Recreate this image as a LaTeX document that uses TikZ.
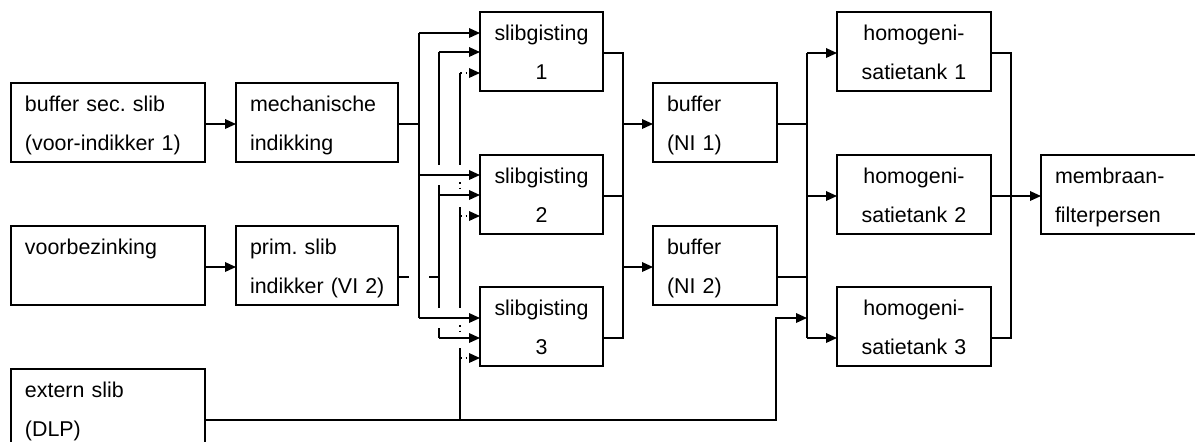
\documentclass[tikz,border=0pt]{standalone}
\usepackage{fontspec}
\setmainfont{Liberation Sans}
\usetikzlibrary{arrows.meta,calc}
\frenchspacing
\begin{document}
\begin{tikzpicture}[x=0.5pt,y=-0.5pt,
  line width=0.75pt,
  box/.style={draw, rectangle, anchor=north west, outer sep=0pt, inner ysep=0pt,
    minimum height=39.5pt, text height=14pt, text depth=25.5pt,
    font=\fontsize{10.7}{19.7}\selectfont\frenchspacing},
  lbox/.style={box, align=left, inner xsep=7pt},
  cbox/.style={box, align=center, inner xsep=4pt},
  arr/.style={-{Triangle[length=5.5pt,width=4.8pt]}},
]
\useasboundingbox (0,0) rectangle (1195,441);

% boxes
\node[lbox, minimum width=97pt, text width=83pt] (bsec) at (11,83) {buffer sec.~slib\\(voor-indikker~1)};
\node[lbox, minimum width=81pt, text width=67pt] (mech) at (236,83) {mechanische\\indikking};
\node[lbox, minimum width=97pt, text width=83pt] (voor) at (11,226) {voorbezinking};
\node[lbox, minimum width=81pt, text width=67pt] (prim) at (236,226) {prim.~slib\\\mbox{indikker (VI 2)}};
\node[lbox, minimum width=97pt, text width=83pt] (ext) at (11,369) {extern~slib\\(DLP)};
\node[cbox, minimum width=61.5pt, text width=53.5pt] (s1) at (480,12) {slibgisting\\1};
\node[cbox, minimum width=61.5pt, text width=53.5pt] (s2) at (480,155) {slibgisting\\2};
\node[cbox, minimum width=61.5pt, text width=53.5pt] (s3) at (480,287) {slibgisting\\3};
\node[lbox, minimum width=62pt, text width=48pt] (b1) at (653,83) {buffer\\(NI~1)};
\node[lbox, minimum width=62pt, text width=48pt] (b2) at (653,226) {buffer\\(NI~2)};
\node[cbox, minimum width=77pt, text width=69pt] (h1) at (837,12) {homogeni-\\satietank~1};
\node[cbox, minimum width=77pt, text width=69pt] (h2) at (837,155) {homogeni-\\satietank~2};
\node[cbox, minimum width=77pt, text width=69pt] (h3) at (837,287) {homogeni-\\satietank~3};
\node[lbox, minimum width=81pt, text width=67pt] (mem) at (1041,155) {membraan-\\filterpersen};

% bus x positions
\coordinate (A) at (419,0);
\coordinate (B) at (439,0);
\coordinate (C) at (460,0);
\coordinate (G) at (623,0);
\coordinate (D) at (776,0);
\coordinate (E) at (807,0);
\coordinate (F) at (1011,0);

% connection points
\coordinate (s1a) at ($(s1.north west)+(0,21)$);
\coordinate (s1b) at ($(s1.north west)+(0,40)$);
\coordinate (s1c) at ($(s1.north west)+(0,61)$);
\coordinate (s2a) at ($(s2.north west)+(0,20)$);
\coordinate (s2b) at ($(s2.north west)+(0,40)$);
\coordinate (s2c) at ($(s2.north west)+(0,61)$);
\coordinate (s3a) at ($(s3.north west)+(0,31)$);
\coordinate (s3b) at ($(s3.north west)+(0,51)$);
\coordinate (s3c) at ($(s3.north west)+(0,71)$);
\coordinate (mo) at ($(mech.north east)+(0,41)$);
\coordinate (po) at ($(prim.north east)+(0,51)$);
\coordinate (eo) at ($(ext.north east)+(0,51)$);
\coordinate (s1o) at ($(s1.north east)+(0,41)$);
\coordinate (s2o) at ($(s2.north east)+(0,41)$);
\coordinate (s3o) at ($(s3.north east)+(0,51)$);
\coordinate (b1i) at ($(b1.north west)+(0,41)$);
\coordinate (b2i) at ($(b2.north west)+(0,41)$);
\coordinate (b1o) at ($(b1.north east)+(0,41)$);
\coordinate (b2o) at ($(b2.north east)+(0,51)$);
\coordinate (h1i) at ($(h1.north west)+(0,41)$);
\coordinate (h2i) at ($(h2.north west)+(0,41)$);
\coordinate (h3i) at ($(h3.north west)+(0,51)$);
\coordinate (h1o) at ($(h1.north east)+(0,41)$);
\coordinate (h2o) at ($(h2.north east)+(0,41)$);
\coordinate (h3o) at ($(h3.north east)+(0,51)$);
\coordinate (mi) at ($(mem.north west)+(0,41)$);

% left feeds
\draw[arr] ($(bsec.north east)+(0,41)$) -- ($(mech.north west)+(0,41)$);
\draw[arr] ($(voor.north east)+(0,41)$) -- ($(prim.north west)+(0,41)$);

% bus A (mechanische indikking)
\draw (mo) -- (A |- mo);
\draw (A |- s1a) -- (A |- s3a);
\draw[arr] (A |- s1a) -- (s1a);
\draw[arr] (A |- s2a) -- (s2a);
\draw[arr] (A |- s3a) -- (s3a);

% bus B (prim. slib indikker)
\draw (po) -- ($(A |- po)+(-10,0)$);
\draw ($(A |- po)+(10,0)$) -- (B |- po);
\draw (B |- s1b) -- ($(B |- s2a)+(0,-10)$);
\draw ($(B |- s2a)+(0,10)$) -- ($(B |- s3a)+(0,-10)$);
\draw ($(B |- s3a)+(0,10)$) -- (B |- s3b);
\draw[arr] (B |- s1b) -- (s1b);
\draw[arr] (B |- s2b) -- (s2b);
\draw[arr] (B |- s3b) -- (s3b);

% bus C (extern slib)
\draw (C |- s1c) -- ($(C |- s2a)+(0,-10)$);
\draw[dotted] ($(C |- s2a)+(0,7)$) -- ($(C |- s2a)+(0,17)$);
\draw ($(C |- s2b)+(0,12)$) -- ($(C |- s3a)+(0,-10)$);
\draw[dotted] ($(C |- s3a)+(0,7)$) -- ($(C |- s3a)+(0,17)$);
\draw ($(C |- s3b)+(0,10)$) -- (C |- eo);
\draw[dotted, arr] (C |- s1c) -- (s1c);
\draw[dotted, arr] (C |- s2c) -- (s2c);
\draw[dotted, arr] (C |- s3c) -- (s3c);
\draw[arr] (eo) -- (D |- eo) -- (D |- s3a) -- (E |- s3a);

% slibgisting -> buffers
\draw (s1o) -- (G |- s1o) -- (G |- s3o) -- (s3o);
\draw (s2o) -- (G |- s2o);
\draw[arr] (G |- b1i) -- (b1i);
\draw[arr] (G |- b2i) -- (b2i);

% buffers -> homogenisatietanks
\draw (b1o) -- (E |- b1o);
\draw (b2o) -- (E |- b2o);
\draw (E |- h1i) -- (E |- h3i);
\draw[arr] (E |- h1i) -- (h1i);
\draw[arr] (E |- h2i) -- (h2i);
\draw[arr] (E |- h3i) -- (h3i);

% homogenisatietanks -> membraanfilterpersen
\draw (h1o) -- (F |- h1o) -- (F |- h3o) -- (h3o);
\draw[arr] (h2o) -- (mi);
\end{tikzpicture}
\end{document}
